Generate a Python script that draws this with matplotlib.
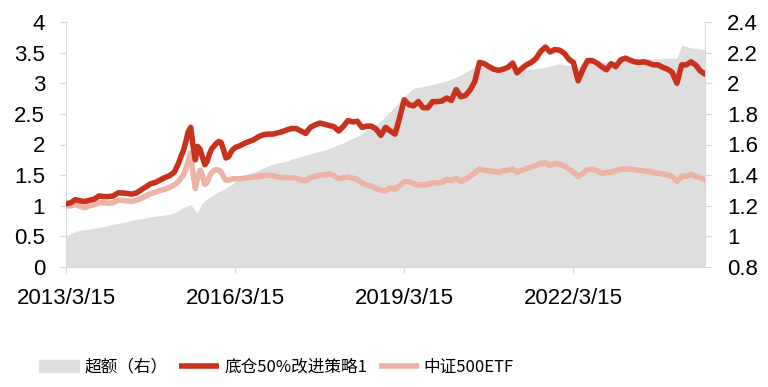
import matplotlib
matplotlib.use("Agg")
import matplotlib.pyplot as plt
import matplotlib.patches as mpatches
import matplotlib.ticker as ticker
from matplotlib.lines import Line2D
import pandas as pd

_colors = {
    "excess": "#DEDEDE",
    "strategy": "#C8321D",
    "etf": "#EDB3A6",
    "axis": "#D9D9D9",
}

# month-end style sampling (15th of each month), denser in 2015/2016
_monthly = pd.date_range("2013-03-01", "2024-07-01", freq="MS") + pd.Timedelta(days=14)
_extra = pd.date_range("2015-04-01", "2016-03-01", freq="MS")
dates = _monthly.union(_extra)

tick_dates = ["2013-03-15", "2016-03-15", "2019-03-15", "2022-03-15"]
tick_labels = ["2013/3/15", "2016/3/15", "2019/3/15", "2022/3/15"]

series_names = ["超额（右）", "底仓50%改进策略1", "中证500ETF"]

# 底仓50%改进策略1 (left axis)
strategy = [
    1.03, 1.05, 1.10, 1.08, 1.07, 1.09, 1.11, 1.16, 1.15, 1.15,
    1.16, 1.21, 1.21, 1.20, 1.19, 1.21, 1.26, 1.31, 1.36, 1.38, 1.42, 1.46,
    1.49, 1.55,
    1.70, 1.82, 1.90, 2.05, 2.20, 2.28, 2.00, 1.75, 1.97, 1.92, 1.80, 1.67, 1.72,
    1.85, 1.93, 1.98, 2.02, 2.05, 2.03, 1.90, 1.78, 1.80, 1.87, 1.92, 1.95,
    1.98, 2.02, 2.05, 2.08, 2.13, 2.16, 2.17, 2.17, 2.19,
    2.21, 2.24, 2.26, 2.26, 2.22, 2.18, 2.28, 2.32, 2.35, 2.33, 2.31, 2.29,
    2.22, 2.30, 2.39, 2.37, 2.38, 2.28, 2.30, 2.30, 2.25, 2.15, 2.28, 2.22,
    2.17, 2.45, 2.73, 2.65, 2.63, 2.70, 2.60, 2.60, 2.70, 2.70, 2.71, 2.76,
    2.72, 2.90, 2.78, 2.80, 2.89, 3.03, 3.34, 3.32, 3.27, 3.23, 3.21, 3.23,
    3.26, 3.33, 3.17, 3.24, 3.30, 3.34, 3.40, 3.52, 3.59, 3.51, 3.55, 3.54,
    3.49, 3.39, 3.34, 3.04, 3.22, 3.37, 3.37, 3.33, 3.27, 3.22, 3.32, 3.27,
    3.38, 3.41, 3.38, 3.35, 3.34, 3.35, 3.33, 3.30, 3.30, 3.26, 3.23, 3.18,
    3.00, 3.30, 3.30, 3.35, 3.30, 3.20, 3.15,
]

# 中证500ETF (left axis)
etf = [
    1.00, 1.00, 1.02, 0.99, 0.97, 1.00, 1.02, 1.05, 1.05, 1.04,
    1.05, 1.09, 1.09, 1.08, 1.07, 1.09, 1.12, 1.16, 1.20, 1.22, 1.25, 1.27,
    1.30, 1.34,
    1.40, 1.46, 1.50, 1.60, 1.72, 1.86, 1.55, 1.28, 1.45, 1.58, 1.50, 1.35, 1.38,
    1.48, 1.54, 1.58, 1.59, 1.58, 1.55, 1.47, 1.42, 1.42, 1.43, 1.44, 1.44,
    1.44, 1.45, 1.46, 1.47, 1.48, 1.49, 1.50, 1.49, 1.47,
    1.46, 1.46, 1.46, 1.45, 1.42, 1.41, 1.46, 1.48, 1.50, 1.50, 1.52, 1.49,
    1.44, 1.46, 1.47, 1.45, 1.43, 1.37, 1.34, 1.32, 1.28, 1.25, 1.24, 1.29,
    1.27, 1.33, 1.39, 1.40, 1.36, 1.34, 1.34, 1.35, 1.37, 1.37, 1.38, 1.43,
    1.41, 1.45, 1.40, 1.43, 1.48, 1.54, 1.60, 1.58, 1.57, 1.56, 1.55, 1.57,
    1.58, 1.60, 1.55, 1.58, 1.61, 1.63, 1.66, 1.69, 1.70, 1.66, 1.69, 1.68,
    1.65, 1.60, 1.55, 1.48, 1.53, 1.59, 1.60, 1.57, 1.53, 1.54, 1.55, 1.57,
    1.60, 1.60, 1.60, 1.59, 1.58, 1.57, 1.56, 1.54, 1.53, 1.52, 1.50, 1.48,
    1.40, 1.48, 1.48, 1.51, 1.48, 1.46, 1.42,
]

# 超额 (right axis)
excess = [
    1.000, 1.020, 1.030, 1.040, 1.044, 1.048, 1.052, 1.060, 1.064, 1.072,
    1.080, 1.084, 1.092, 1.096, 1.104, 1.112, 1.116, 1.120, 1.128, 1.132, 1.136, 1.140,
    1.144, 1.152,
    1.168, 1.180, 1.188, 1.196, 1.200, 1.208, 1.188, 1.168, 1.152, 1.192, 1.216, 1.232, 1.244,
    1.256, 1.264, 1.276, 1.284, 1.292, 1.300, 1.308, 1.316, 1.328, 1.336, 1.344, 1.356,
    1.376, 1.396, 1.412, 1.420, 1.432, 1.448, 1.460, 1.472, 1.480,
    1.484, 1.492, 1.504, 1.512, 1.520, 1.532, 1.540, 1.548, 1.556, 1.564, 1.576, 1.588,
    1.600, 1.612, 1.628, 1.640, 1.652, 1.672, 1.692, 1.712, 1.732, 1.752, 1.784, 1.816,
    1.848, 1.880, 1.912, 1.940, 1.968, 1.972, 1.980, 1.984, 1.992, 2.000, 2.008, 2.016,
    2.028, 2.040, 2.056, 2.072, 2.088, 2.112, 2.120, 2.104, 2.096, 2.092, 2.092, 2.092,
    2.092, 2.092, 2.092, 2.092, 2.092, 2.092, 2.096, 2.100, 2.104, 2.112, 2.120, 2.128,
    2.120, 2.116, 2.112, 2.104, 2.128, 2.132, 2.132, 2.136, 2.136, 2.140, 2.140, 2.144,
    2.148, 2.152, 2.152, 2.156, 2.160, 2.160, 2.160, 2.160, 2.160, 2.164, 2.164, 2.164,
    2.164, 2.248, 2.240, 2.232, 2.228, 2.224, 2.216,
]

left_ticks = [0, 0.5, 1, 1.5, 2, 2.5, 3, 3.5, 4]
right_ticks = [0.8, 1, 1.2, 1.4, 1.6, 1.8, 2, 2.2, 2.4]


def run():
    plt.rcParams["font.family"] = ["Liberation Sans", "DejaVu Sans"]

    fig = plt.figure(figsize=(7.68, 3.87), dpi=100)
    ax = fig.add_axes([66 / 768, 120 / 387, 639 / 768, 245 / 387])
    ax_r = ax.twinx()

    ax_r.fill_between(dates, right_ticks[0], excess, color=_colors["excess"],
                      linewidth=0, zorder=1)
    ax.plot(dates, etf, color=_colors["etf"], linewidth=4.0, zorder=2,
            solid_joinstyle="round", solid_capstyle="round")
    ax.plot(dates, strategy, color=_colors["strategy"], linewidth=4.0, zorder=3,
            solid_joinstyle="round", solid_capstyle="round")

    # lines above the area
    ax.set_zorder(ax_r.get_zorder() + 1)
    ax.patch.set_visible(False)

    ax.set_xlim(dates[0], dates[-1])
    ax.set_ylim(left_ticks[0], left_ticks[-1])
    ax_r.set_ylim(right_ticks[0], right_ticks[-1])
    ax.set_yticks(left_ticks)
    ax_r.set_yticks(right_ticks)
    ax.yaxis.set_major_formatter(ticker.FormatStrFormatter("%g"))
    ax_r.yaxis.set_major_formatter(ticker.FormatStrFormatter("%g"))
    ax.set_xticks(pd.to_datetime(tick_dates))
    ax.set_xticklabels(tick_labels)

    for a in (ax, ax_r):
        for s in a.spines.values():
            s.set_color(_colors["axis"])
            s.set_linewidth(0.8)
        a.spines["top"].set_visible(False)
    ax.spines["right"].set_visible(False)
    ax_r.spines["left"].set_visible(False)
    ax_r.spines["bottom"].set_visible(False)

    ax.tick_params(axis="y", direction="out", length=4, width=0.8,
                   color=_colors["axis"], labelsize=16, pad=11)
    ax_r.tick_params(axis="y", direction="out", length=5, width=0.8,
                     color=_colors["axis"], labelsize=16, pad=11)
    ax.tick_params(axis="x", direction="out", length=4, width=0.8,
                   color=_colors["axis"], labelsize=16, pad=11)

    _handles = [
        mpatches.Patch(color=_colors["excess"], label=series_names[0]),
        Line2D([], [], color=_colors["strategy"], linewidth=4.0,
               solid_capstyle="butt", label=series_names[1]),
        Line2D([], [], color=_colors["etf"], linewidth=4.0,
               solid_capstyle="butt", label=series_names[2]),
    ]
    fig.legend(handles=_handles, loc="center left", bbox_to_anchor=(31 / 768, 20 / 387),
               ncol=3, frameon=False, borderpad=0, handlelength=2.4,
               handleheight=0.75, handletextpad=0.3, columnspacing=0.7,
               prop={"family": ["Noto Sans CJK SC", "DejaVu Sans"], "size": 12})

    fig.savefig("out.png", dpi=100)


run()
